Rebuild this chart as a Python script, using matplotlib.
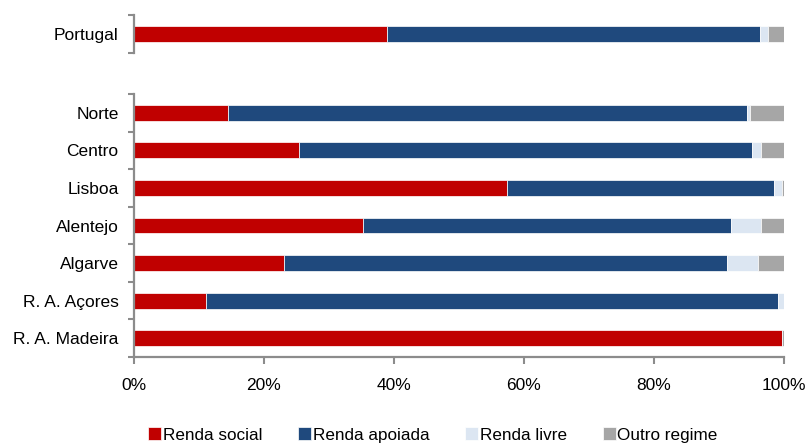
import numpy as np
import matplotlib.pyplot as plt
from matplotlib.ticker import FixedLocator, PercentFormatter

# Habitação social por regime de arrendamento (%)
regioes = ['Norte', 'Centro', 'Lisboa', 'Alentejo', 'Algarve', 'R. A. Açores', 'R. A. Madeira']
renda_social = [14.5, 25.4, 57.4, 35.3, 23.1, 11.1, 99.7]
renda_apoiada = [79.8, 69.8, 41.1, 56.6, 68.2, 88.0, 0.0]
renda_livre = [0.6, 1.3, 1.2, 4.6, 4.8, 0.9, 0.0]
outro_regime = [5.1, 3.5, 0.3, 3.5, 3.9, 0.0, 0.3]

portugal = [38.9, 57.5, 1.2, 2.4]

series = ['Renda social', 'Renda apoiada', 'Renda livre', 'Outro regime']
cores = ['#C00000', '#1F497D', '#DCE6F2', '#A6A6A6']

plt.rcParams['font.family'] = ['Liberation Sans', 'DejaVu Sans']
plt.rcParams['font.size'] = 12.5

fig = plt.figure(figsize=(8.08, 4.43), dpi=100)
ax_pt = fig.add_axes([0.1658, 1 - 53 / 443, 0.804, 38 / 443])
ax = fig.add_axes([0.1658, 1 - 357 / 443, 0.804, 263 / 443])

cinza = '#8C8C8C'


def barras(eixo, valores, nomes):
    y = np.arange(len(nomes))
    esq = np.zeros(len(nomes))
    for vals, nome, cor in zip(valores, series, cores):
        vals = np.array(vals, dtype=float)
        eixo.barh(y, vals, left=esq, height=0.42, color=cor, label=nome,
                  edgecolor='white', linewidth=0.5)
        esq += vals
    eixo.set_ylim(len(nomes) - 0.5, -0.5)
    eixo.set_xlim(0, 100)
    eixo.set_yticks(y)
    eixo.set_yticklabels(nomes)
    eixo.yaxis.set_minor_locator(FixedLocator(np.arange(len(nomes) + 1) - 0.5))
    eixo.tick_params(axis='y', which='major', length=0, pad=11, labelsize=12.5)
    eixo.tick_params(axis='y', which='minor', length=4, width=1.5, color=cinza)
    for lado in ['top', 'right']:
        eixo.spines[lado].set_visible(False)
    eixo.spines['left'].set_color(cinza)
    eixo.spines['left'].set_linewidth(1.6)


barras(ax_pt, [[v] for v in portugal], ['Portugal'])
barras(ax, [renda_social, renda_apoiada, renda_livre, outro_regime], regioes)

ax_pt.spines['bottom'].set_visible(False)
ax_pt.set_xticks([])

ax.spines['bottom'].set_color(cinza)
ax.spines['bottom'].set_linewidth(1.6)
ax.set_xticks(np.arange(0, 101, 20))
ax.xaxis.set_major_formatter(PercentFormatter(decimals=0))
ax.tick_params(axis='x', length=5, width=1.5, color=cinza, pad=10, labelsize=12.5)

handles, labels = ax.get_legend_handles_labels()
fig.legend(handles, labels, loc='center', bbox_to_anchor=(0.536, 1 - 435 / 443),
           ncol=4, frameon=False, fontsize=12.3, handlelength=0.75,
           handleheight=0.75, handletextpad=0.1, columnspacing=2.1)

fig.savefig('out.png', dpi=100)
